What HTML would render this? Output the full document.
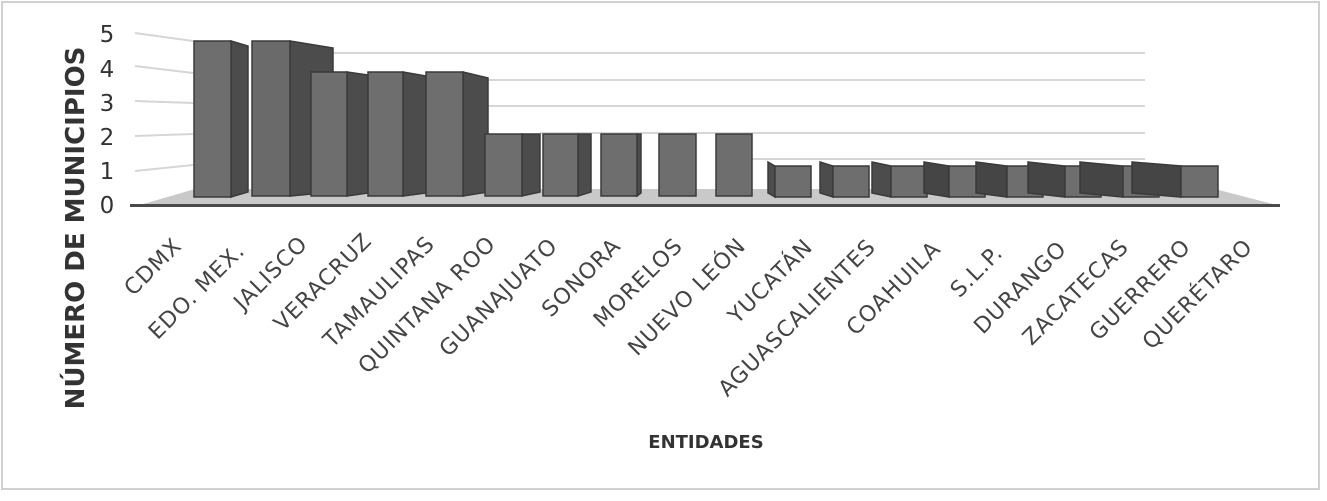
<!DOCTYPE html>
<html><head><meta charset="utf-8"><style>
html,body{margin:0;padding:0;background:#fff}
svg{display:block}
</style></head><body>
<svg width="1327" height="501" viewBox="0 0 1327 501" xmlns="http://www.w3.org/2000/svg" font-family="'DejaVu Sans','Liberation Sans',sans-serif">
<rect x="2" y="2" width="1317" height="487" fill="#fff" stroke="#d0d0d0" stroke-width="2"/>
<g stroke="#d6d6d6" stroke-width="2" fill="none">
<line x1="135" y1="33" x2="193" y2="41"/>
<line x1="135" y1="66" x2="193" y2="73"/>
<line x1="135" y1="101" x2="193" y2="103"/>
<line x1="135" y1="136" x2="193" y2="134"/>
<line x1="135" y1="171" x2="193" y2="165"/>
<line x1="333" y1="53" x2="1145" y2="53"/>
<line x1="488" y1="80" x2="1145" y2="80"/>
<line x1="488" y1="106" x2="1145" y2="106"/>
<line x1="540" y1="133" x2="1145" y2="133"/>
<line x1="752" y1="159" x2="1145" y2="159"/>
</g>
<polygon points="140,205 1280,206 1215,189 195,189" fill="#c9c9c9"/>
<rect x="130" y="204" width="1150" height="3" fill="#4a4a4a"/>
<g font-size="23" fill="#333" text-anchor="middle">
<text x="107" y="42">5</text><text x="107" y="77">4</text><text x="107" y="111">3</text>
<text x="107" y="145">2</text><text x="107" y="179">1</text><text x="107" y="213">0</text>
</g>
<g stroke="#3a3a3a" stroke-width="1.5">
<polygon points="231,41 248,46 248,192 231,197" fill="#4c4c4c"/>
<rect x="194" y="41" width="37" height="156" fill="#6e6e6e"/>
<polygon points="290,41 333,48 333,192 290,196" fill="#4c4c4c"/>
<rect x="252" y="41" width="38" height="155" fill="#6a6a6a"/>
<polygon points="347,72 368,75 368,193 347,196" fill="#4c4c4c"/>
<rect x="311" y="72" width="36" height="124" fill="#6e6e6e"/>
<polygon points="403,72 426,76 426,193 403,196" fill="#4c4c4c"/>
<rect x="368" y="72" width="35" height="124" fill="#6e6e6e"/>
<polygon points="463,72 488,78 488,192 463,196" fill="#4c4c4c"/>
<rect x="426" y="72" width="37" height="124" fill="#6e6e6e"/>
<polygon points="522,134 540,134 540,192 522,196" fill="#4c4c4c"/>
<rect x="485" y="134" width="37" height="62" fill="#6e6e6e"/>
<polygon points="578,134 591,134 591,192 578,196" fill="#4c4c4c"/>
<rect x="543" y="134" width="35" height="62" fill="#6e6e6e"/>
<polygon points="637,134 641,134 641,193 637,196" fill="#4c4c4c"/>
<rect x="601" y="134" width="36" height="62" fill="#6e6e6e"/>
<rect x="659" y="134" width="37" height="62" fill="#6e6e6e"/>
<rect x="716" y="134" width="36" height="62" fill="#6e6e6e"/>
<polygon points="768,162 775,166 775,197 768,193" fill="#4c4c4c"/><rect x="775" y="166" width="36" height="31" fill="#6e6e6e"/>
<polygon points="820,162 833,166 833,197 820,193" fill="#4c4c4c"/><rect x="833" y="166" width="36" height="31" fill="#6e6e6e"/>
<polygon points="872,162 891,166 891,197 872,193" fill="#4c4c4c"/><rect x="891" y="166" width="36" height="31" fill="#6e6e6e"/>
<polygon points="924,162 949,166 949,197 924,193" fill="#454545"/><rect x="949" y="166" width="36" height="31" fill="#6e6e6e"/>
<polygon points="976,162 1007,166 1007,197 976,193" fill="#454545"/><rect x="1007" y="166" width="36" height="31" fill="#6e6e6e"/>
<polygon points="1028,162 1065,166 1065,197 1028,193" fill="#454545"/><rect x="1065" y="166" width="36" height="31" fill="#6e6e6e"/>
<polygon points="1080,162 1123,166 1123,197 1080,193" fill="#454545"/><rect x="1123" y="166" width="36" height="31" fill="#6e6e6e"/>
<polygon points="1132,162 1181,166 1181,197 1132,193" fill="#454545"/><rect x="1181" y="166" width="37" height="31" fill="#6e6e6e"/>
</g>
<g font-size="22" fill="#444" text-anchor="end" letter-spacing="1">
<text transform="translate(183,247) rotate(-45)">CDMX</text>
<text transform="translate(246,252) rotate(-45)">EDO. MEX.</text>
<text transform="translate(309,245) rotate(-45)">JALISCO</text>
<text transform="translate(373,242) rotate(-45)">VERACRUZ</text>
<text transform="translate(436,245) rotate(-45)">TAMAULIPAS</text>
<text transform="translate(497,245) rotate(-45)">QUINTANA ROO</text>
<text transform="translate(559,247) rotate(-45)">GUANAJUATO</text>
<text transform="translate(622,247) rotate(-45)">SONORA</text>
<text transform="translate(684,247) rotate(-45)">MORELOS</text>
<text transform="translate(747,247) rotate(-45)">NUEVO LEÓN</text>
<text transform="translate(814,248) rotate(-45)">YUCATÁN</text>
<text transform="translate(877,248) rotate(-45)">AGUASCALIENTES</text>
<text transform="translate(942,250) rotate(-45)">COAHUILA</text>
<text transform="translate(1004,254) rotate(-45)">S.L.P.</text>
<text transform="translate(1068,250) rotate(-45)">DURANGO</text>
<text transform="translate(1130,248) rotate(-45)">ZACATECAS</text>
<text transform="translate(1192,248) rotate(-45)">GUERRERO</text>
<text transform="translate(1254,248) rotate(-45)">QUERÉTARO</text>
</g>
<text transform="translate(84,228) rotate(-90)" font-size="26" font-weight="bold" fill="#333" text-anchor="middle">NÚMERO DE MUNICIPIOS</text>
<text x="706" y="448" font-size="18" font-weight="bold" fill="#333" text-anchor="middle">ENTIDADES</text>
</svg>
</body></html>
